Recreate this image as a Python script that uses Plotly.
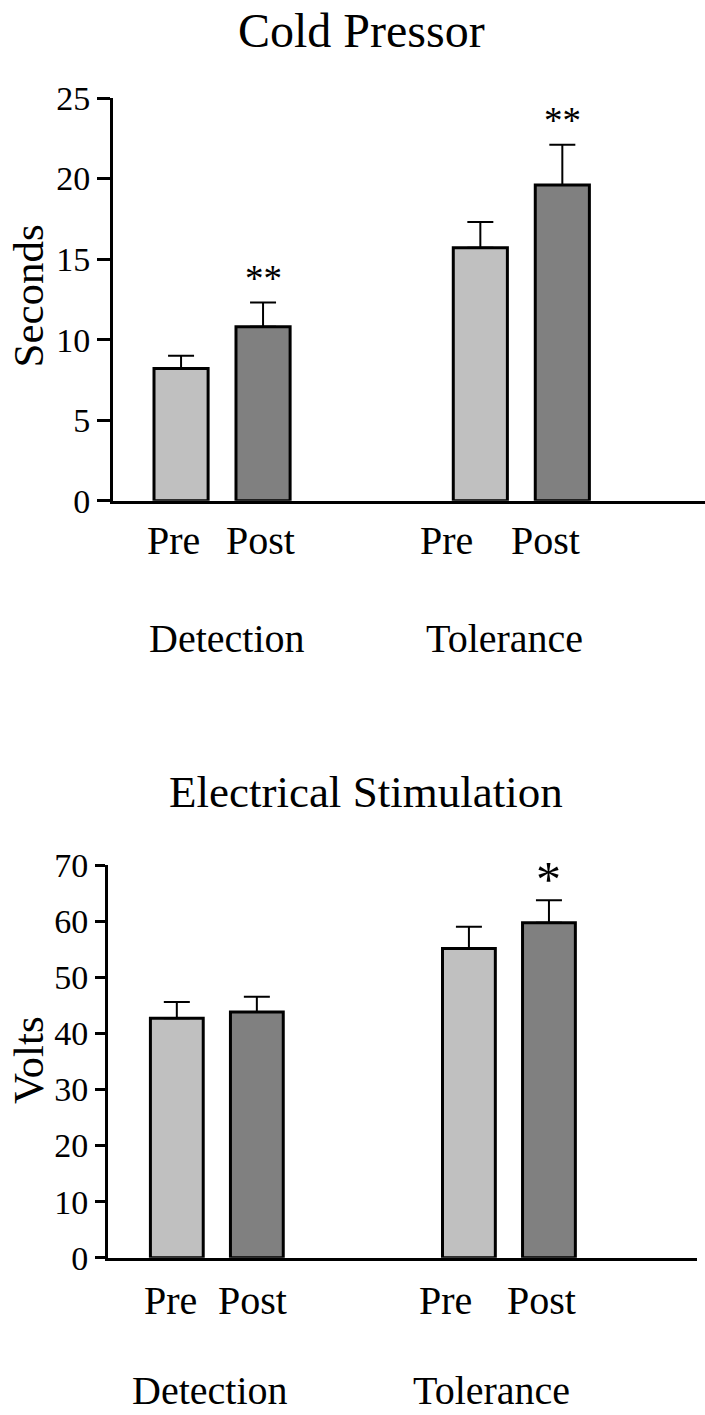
import plotly.graph_objects as go

W, H = 705, 1415
FONT = "Liberation Serif"

# ---- data ----
groups = ["Detection", "Tolerance"]
conditions = ["Pre", "Post"]

cold_pre = [8.2, 15.7]
cold_post = [10.8, 19.6]
cold_pre_err = [0.8, 1.6]
cold_post_err = [1.5, 2.5]
cold_sig = ["**", "**"]

elec_pre = [42.7, 55.1]
elec_post = [43.8, 59.7]
elec_pre_err = [2.9, 3.9]
elec_post_err = [2.7, 4.0]
elec_sig = ["", "*"]

cold_ticks = [0, 5, 10, 15, 20, 25]
elec_ticks = [0, 10, 20, 30, 40, 50, 60, 70]

# ---- layout helpers ----
GROUP_STEP = 3.65
BAR_W = 0.66
PRE_COLOR = "#c0c0c0"
POST_COLOR = "#808080"


def px(xp):
    return xp / W


def py(yp):
    return 1 - yp / H


def positions(cond_idx):
    return [g * GROUP_STEP + cond_idx for g in range(len(groups))]


fig = go.Figure()

panels = [
    dict(xa="x", ya="y", pre=cold_pre, post=cold_post, pre_e=cold_pre_err, post_e=cold_post_err),
    dict(xa="x2", ya="y2", pre=elec_pre, post=elec_post, pre_e=elec_pre_err, post_e=elec_post_err),
]

for p in panels:
    for ci, (vals, errs, col) in enumerate([(p["pre"], p["pre_e"], PRE_COLOR),
                                             (p["post"], p["post_e"], POST_COLOR)]):
        fig.add_trace(go.Bar(
            x=positions(ci), y=vals, width=BAR_W,
            marker=dict(color=col, line=dict(color="black", width=3)),
            error_y=dict(type="data", array=errs, arrayminus=[0] * len(errs), symmetric=False,
                         color="black", thickness=2, width=13),
            xaxis=p["xa"], yaxis=p["ya"], showlegend=False, hoverinfo="skip",
        ))

axis_common = dict(showgrid=False, zeroline=False, showline=True, linecolor="black", linewidth=3,
                   automargin=False)

fig.update_layout(
    width=W, height=H,
    margin=dict(l=0, r=0, t=0, b=0),
    paper_bgcolor="white", plot_bgcolor="white",
    font=dict(family=FONT, color="black"),
    barmode="overlay",
    xaxis=dict(domain=[px(113), 1.0], range=[-0.83, 6.39], showticklabels=False, ticks="",
               anchor="y", **axis_common),
    yaxis=dict(domain=[py(500.7), py(98)], range=[0, 25], tickvals=cold_ticks,
               ticks="outside", ticklen=13, tickwidth=3, tickcolor="black",
               tickfont=dict(family=FONT, size=34, color="black"), anchor="x", **axis_common),
    xaxis2=dict(domain=[px(108), px(697)], range=[-0.86, 6.50], showticklabels=False, ticks="",
                anchor="y2", **axis_common),
    yaxis2=dict(domain=[py(1257.7), py(865)], range=[0, 70], tickvals=elec_ticks,
                ticks="outside", ticklen=10, tickwidth=3, tickcolor="black",
                tickfont=dict(family=FONT, size=34, color="black"), anchor="x2", **axis_common),
)

ann = []


def text(x, y, s, size, **kw):
    d = dict(x=x, y=y, text=s, showarrow=False, font=dict(family=FONT, size=size, color="black"),
             xanchor="center", yanchor="middle")
    d.update(kw)
    ann.append(d)


# titles
text(px(361.5), py(30.5), "Cold Pressor", 48, xref="paper", yref="paper")
text(px(366), py(792), "Electrical Stimulation", 45, xref="paper", yref="paper")

# y-axis titles
text(px(28), py(296.5), "Seconds", 43, xref="paper", yref="paper", textangle=-90)
text(px(28), py(1060), "Volts", 43, xref="paper", yref="paper", textangle=-90)

# condition labels under the bars
cond_shift_top = [[-8, -34], [-3, -17]]
cond_shift_bot = [[-6, -23], [-4, -7]]
for ci, cname in enumerate(conditions):
    for g, xv in enumerate(positions(ci)):
        text(xv, py(540), cname, 40, xref="x", yref="paper", xshift=cond_shift_top[ci][g])
        text(xv, py(1300.5), cname, 40, xref="x2", yref="paper", xshift=cond_shift_bot[ci][g])

# group labels
group_x_top = [226.7, 504]
group_x_bot = [210, 491]
for g, gname in enumerate(groups):
    text(px(group_x_top[g]), py(639), gname, 40, xref="paper", yref="paper")
    text(px(group_x_bot[g]), py(1390), gname, 40, xref="paper", yref="paper")

# significance markers above the post bars
post_x = positions(1)
for g in range(len(groups)):
    if cold_sig[g]:
        text(post_x[g], cold_post[g] + cold_post_err[g], cold_sig[g], 37, xref="x", yref="y",
             yanchor="bottom", yshift=2)
    if elec_sig[g]:
        text(post_x[g], elec_post[g] + elec_post_err[g], elec_sig[g], 50, xref="x2", yref="y2",
             yanchor="bottom", yshift=-9)

fig.update_layout(annotations=ann)
fig.write_html("out.html")
